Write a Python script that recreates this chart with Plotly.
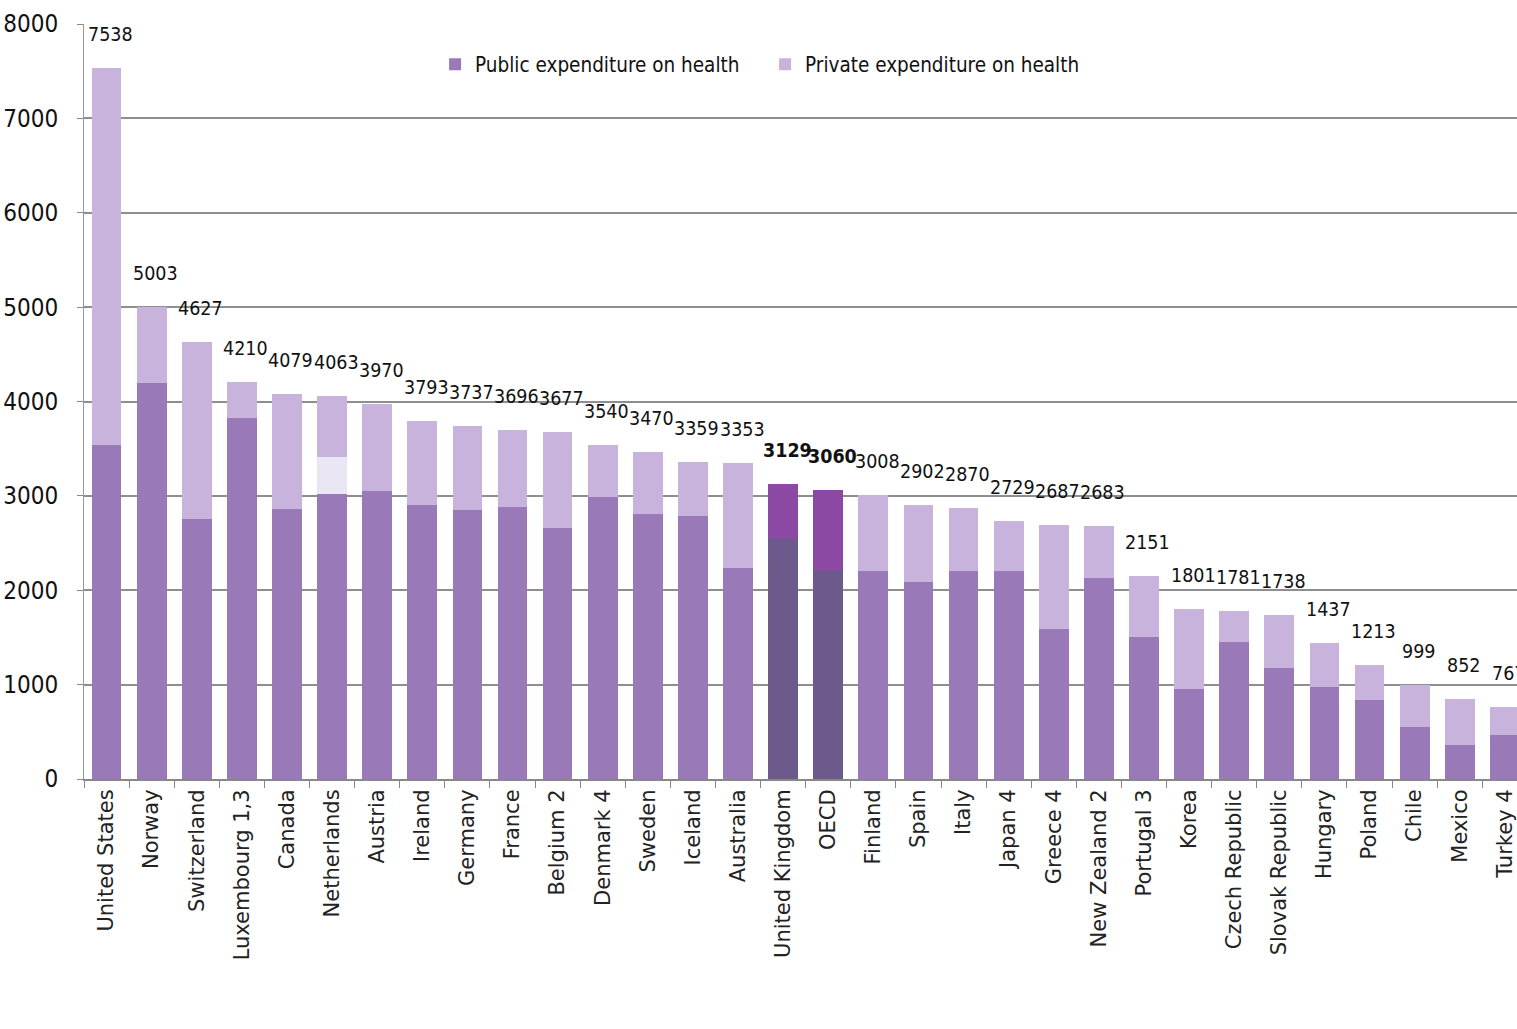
import plotly.graph_objects as go

countries = ["United States", "Norway", "Switzerland", "Luxembourg 1,3", "Canada",
             "Netherlands", "Austria", "Ireland", "Germany", "France", "Belgium 2",
             "Denmark 4", "Sweden", "Iceland", "Australia", "United Kingdom", "OECD",
             "Finland", "Spain", "Italy", "Japan 4", "Greece 4", "New Zealand 2",
             "Portugal 3", "Korea", "Czech Republic", "Slovak Republic", "Hungary",
             "Poland", "Chile", "Mexico", "Turkey 4"]

totals = [7538, 5003, 4627, 4210, 4079, 4063, 3970, 3793, 3737, 3696, 3677, 3540,
          3470, 3359, 3353, 3129, 3060, 3008, 2902, 2870, 2729, 2687, 2683, 2151,
          1801, 1781, 1738, 1437, 1213, 999, 852, 767]

public = [3540, 4200, 2760, 3830, 2860, 3020, 3050, 2905, 2855, 2880, 2655, 2985,
          2810, 2785, 2240, 2540, 2200, 2200, 2090, 2200, 2200, 1590, 2135, 1500,
          955, 1450, 1175, 975, 835, 555, 360, 465]

# unlabelled pale segment visible only on the Netherlands bar
other = [0, 0, 0, 0, 0, 390, 0, 0, 0, 0, 0, 0, 0, 0, 0, 0, 0,
         0, 0, 0, 0, 0, 0, 0, 0, 0, 0, 0, 0, 0, 0, 0]

private = [t - p - o for t, p, o in zip(totals, public, other)]

highlight = {"United Kingdom", "OECD"}

PUB = "#9a79b9"
PRI = "#c7b3dc"
PUB_H = "#6d5a8c"
PRI_H = "#8c49a3"

pub_colors = [PUB_H if c in highlight else PUB for c in countries]
pri_colors = [PRI_H if c in highlight else PRI for c in countries]

NUMFONT = "Liberation Sans Narrow, DejaVu Sans Condensed, Roboto Condensed, Roboto, sans-serif"

fig = go.Figure()
fig.add_trace(go.Bar(x=countries, y=public, name="Public expenditure on health",
                     marker=dict(color=pub_colors, line=dict(width=0))))
fig.add_trace(go.Bar(x=countries, y=other, name="other", showlegend=False,
                     marker=dict(color="#ebe6f3", line=dict(width=0))))
fig.add_trace(go.Bar(x=countries, y=private, name="Private expenditure on health",
                     marker=dict(color=pri_colors, line=dict(width=0))))

annotations = []
for c, t in zip(countries, totals):
    txt = f"<b>{t}</b>" if c in highlight else str(t)
    annotations.append(dict(x=c, y=t, xref="x", yref="y", text=txt, showarrow=False,
                            yanchor="bottom", yshift=20, xshift=4,
                            font=dict(family=NUMFONT, size=19.5, color="#111")))

fig.update_layout(
    width=1517, height=1029,
    margin=dict(l=84, r=0, t=24, b=250),
    paper_bgcolor="white", plot_bgcolor="white",
    barmode="stack", bargap=0.34,
    annotations=annotations,
    showlegend=True,
    legend=dict(orientation="h", x=0.245, y=0.973, xanchor="left", yanchor="top",
                traceorder="normal",
                bgcolor="rgba(0,0,0,0)", entrywidth=285, entrywidthmode="pixels",
                font=dict(family=NUMFONT, size=20.5, color="#111")),
    xaxis=dict(range=[-0.5, 31.27], tickangle=-90, tickson="boundaries",
               ticks="outside", ticklen=7, tickcolor="#888", showline=True,
               linecolor="#888", linewidth=2, showgrid=False,
               tickfont=dict(family="DejaVu Sans", size=21, color="#222")),
    yaxis=dict(range=[0, 8000], dtick=1000, showgrid=True, gridcolor="#8e8e8e",
               gridwidth=2, ticks="outside", ticklen=6, tickcolor="#888",
               showline=True, linecolor="#999", linewidth=1, zeroline=False,
               ticklabelstandoff=14,
               tickfont=dict(family=NUMFONT, size=24, color="#111")),
)

fig.write_html("out.html", config={"displayModeBar": False},
               post_script="document.body.style.margin='0';document.body.style.overflow='hidden';")
